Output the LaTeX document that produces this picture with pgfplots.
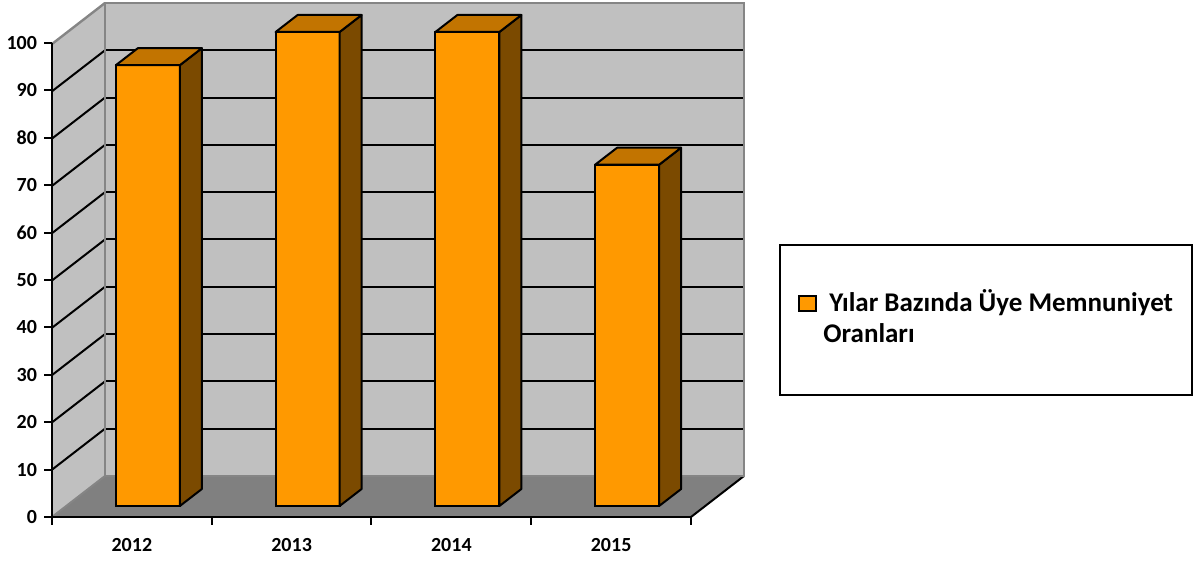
\documentclass[border=0pt]{standalone}
\usepackage{pgfplots}
\usepackage{pgfplotstable}
\pgfplotsset{compat=1.18}
\usepackage{fontspec}
\setmainfont{Carlito}
\definecolor{wallgray}{HTML}{C0C0C0}
\definecolor{floorgray}{HTML}{808080}
\definecolor{edgegray}{HTML}{858585}
\definecolor{barfront}{HTML}{FF9900}
\definecolor{bartop}{HTML}{C27400}
\definecolor{barside}{HTML}{7B4A00}
\pgfdeclareplotmark{emptymark}{}
\pgfplotstableread{
x v
0.5 93
1.5 100
2.5 100
3.5 72
}\datatable
\begin{document}
\begin{tikzpicture}
\path[use as bounding box] (0,0) rectangle (600pt,280.5pt);
% back wall, left wall, floor
\begin{axis}[
  at={(52.5pt,42.5pt)}, anchor=south west, scale only axis,
  width=319.5pt, height=236.5pt,
  xmin=0, xmax=4, ymin=0, ymax=100, clip=false, axis on top,
  axis background/.style={fill=wallgray},
  xtick=\empty, ytick={10,20,...,90}, yticklabels={}, major tick length=0pt,
  ymajorgrids, major grid style={black, line width=1pt},
  axis line style={draw=edgegray, line width=1.2pt},
]
\fill[wallgray] ([shift={(-26.5pt,-20.5pt)}]axis cs:0,0) -- ([shift={(-26.5pt,-20.5pt)}]axis cs:0,100) -- (axis cs:0,100) -- (axis cs:0,0) -- cycle;
\fill[floorgray] ([shift={(-26.5pt,-20.5pt)}]axis cs:0,0) -- ([shift={(-26.5pt,-20.5pt)}]axis cs:4,0) -- (axis cs:4,0) -- (axis cs:0,0) -- cycle;
\draw[edgegray, line width=1.2pt] ([shift={(-26.5pt,-20.5pt)}]axis cs:0,100) -- (axis cs:0,100);
\draw[edgegray, line width=1pt] ([shift={(-26.5pt,-20.5pt)}]axis cs:0,0) -- (axis cs:0,0);
\draw[black, line width=1pt] ([shift={(-26.5pt,-20.5pt)}]axis cs:4,0) -- (axis cs:4,0);
\pgfplotsinvokeforeach{10,20,30,40,50,60,70,80,90}{
  \draw[black, line width=1pt] ([shift={(-26.5pt,-20.5pt)}]axis cs:0,#1) -- (axis cs:0,#1);
}
\end{axis}
% front axis with bars
\begin{axis}[
  at={(26pt,22pt)}, anchor=south west, scale only axis,
  width=319.5pt, height=237pt,
  xmin=0, xmax=4, ymin=0, ymax=100, clip=false,
  axis x line=bottom, axis y line=left,
  axis line style={black, line width=1pt, -},
  xtick={0.5,1.5,2.5,3.5}, xticklabels={2012,2013,2014,2015},
  minor xtick={0,1,2,3,4},
  major x tick style={draw=none},
  ytick={0,10,...,100},
  tick align=outside, major tick length=4pt, minor tick length=4pt,
  tick style={black, line width=1pt},
  ticklabel style={font=\bfseries\fontsize{10}{12}\selectfont},
  /pgf/number format/assume math mode=true,
  xticklabel style={yshift=-3pt},
]
\addplot[ybar, bar width=32pt, bar shift=8pt, yshift=5.5pt,
  fill=barfront, draw=black, line width=1pt] table[x=x, y=v] {\datatable};
\addplot[scatter, only marks, mark=emptymark,
  visualization depends on={rawy \as \val},
  scatter/@pre marker code/.code={%
    \pgfmathsetmacro{\ya}{5.5-\val*2.37}%
    \pgfmathsetmacro{\yb}{14-\val*2.37}%
    \filldraw[fill=barside, draw=black, line width=1pt, line join=round]
      (24pt,5.5pt) -- (35pt,14pt) -- (35pt,\yb pt) -- (24pt,\ya pt) -- cycle;
    \filldraw[fill=bartop, draw=black, line width=1pt, line join=round]
      (-8pt,5.5pt) -- (24pt,5.5pt) -- (35pt,14pt) -- (3pt,14pt) -- cycle;
  },
  scatter/@post marker code/.code={},
] table[x=x, y=v] {\datatable};
\end{axis}
% legend
\draw[black, line width=1pt] (390pt,83pt) rectangle (596pt,158pt);
\filldraw[fill=barfront, draw=black, line width=1pt] (399.5pt,125pt) rectangle (408pt,132.5pt);
\node[anchor=base west, inner sep=0pt, font=\bfseries\fontsize{13.5}{16}\selectfont] at (414.5pt,124.5pt) {Yılar Bazında Üye Memnuniyet};
\node[anchor=base west, inner sep=0pt, font=\bfseries\fontsize{13.5}{16}\selectfont] at (411.5pt,109pt) {Oranları};
\end{tikzpicture}
\end{document}
